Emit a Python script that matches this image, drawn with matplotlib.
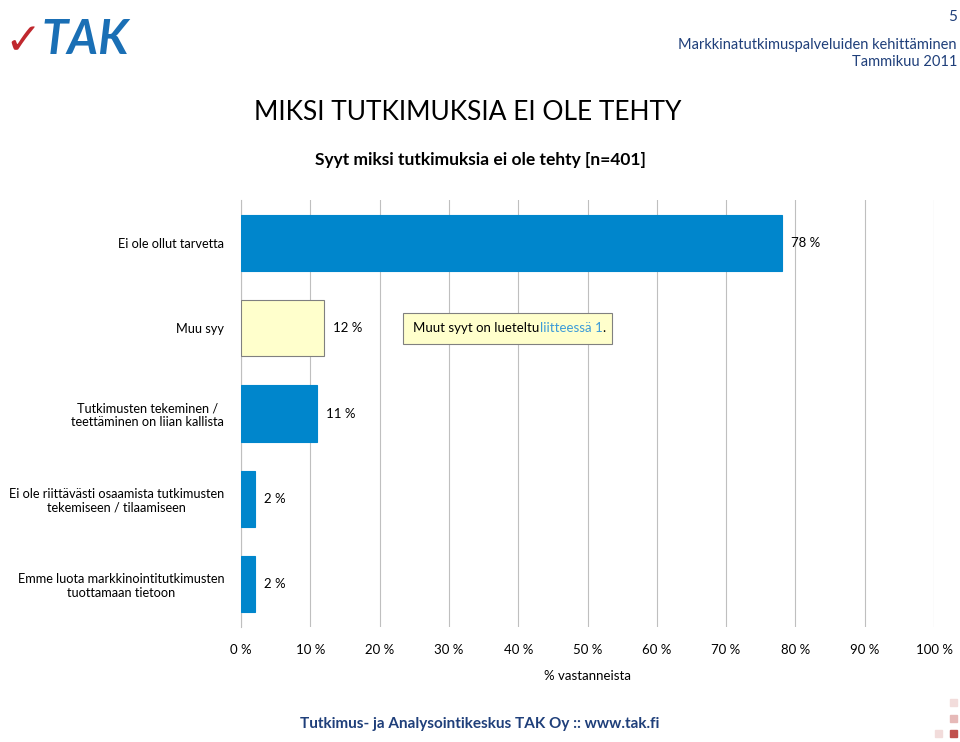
import matplotlib
matplotlib.use("Agg")
import matplotlib.pyplot as plt
from matplotlib.patches import Rectangle

categories = ["Ei ole ollut tarvetta", "Muu syy", "Tutkimusten tekeminen /\nteettäminen on liian kallista",
              "Ei ole riittävästi osaamista tutkimusten\ntekemiseen / tilaamiseen",
              "Emme luota markkinointitutkimusten\ntuottamaan tietoon"]
values = [78, 12, 11, 2, 2]
labels = ["78 %", "12 %", "11 %", "2 %", "2 %"]
colors = ["#0086CC", "#FFFFCC", "#0086CC", "#0086CC", "#0086CC"]
ticks = list(range(0, 101, 10))

plt.rcParams["font.family"] = "Lato"
W, H = 960, 742
fig = plt.figure(figsize=(9.6, 7.42), dpi=100)
ax = fig.add_axes([241/W, 1-627/H, (934-241)/W, (627-200)/H])
y = list(range(len(categories)))
ax.barh(y, values, height=0.66, color=colors, edgecolor=["#0086CC", "#808080", "#0086CC", "#0086CC", "#0086CC"], linewidth=0.8, zorder=3)
for yi, v, l in zip(y, values, labels):
    ax.text(v + 1.3, yi, l, va="center", ha="left", fontsize=9.5, zorder=4)
ax.set_ylim(4.5, -0.5)
ax.set_xlim(0, 100)
ax.set_yticks(y)
ax.set_yticklabels(categories, fontsize=9.2, multialignment="center")
ax.set_xticks(ticks)
ax.set_xticklabels([f"{t} %" for t in ticks], fontsize=9.5)
ax.tick_params(axis="y", length=0, pad=12)
ax.tick_params(axis="x", length=0, pad=12)
ax.grid(axis="x", color="#BFBFBF", linewidth=0.8, zorder=0)
for s in ["top", "right", "bottom"]:
    ax.spines[s].set_visible(False)
ax.spines["left"].set_color("#BFBFBF")
ax.set_xlabel("% vastanneista", fontsize=9.5, labelpad=10)

ax.add_patch(Rectangle((23.4, 0.82), 30.1, 0.365, facecolor="#FFFFCC", edgecolor="#808080", lw=0.8, zorder=6))
ax.text(24.8, 1, "Muut syyt on lueteltu", fontsize=9.5, va="center", ha="left", zorder=7)
ax.text(43.1, 1, "liitteessä 1", fontsize=9.5, va="center", ha="left", color="#3C9BD8", zorder=7)
ax.text(52.1, 1, ".", fontsize=9.5, va="center", ha="left", zorder=7)

blue = "#1F3F7A"
fig.text(254/W, 1-112/H, "MIKSI TUTKIMUKSIA EI OLE TEHTY", fontsize=19, va="center", ha="left")
fig.text(480/W, 1-160/H, "Syyt miksi tutkimuksia ei ole tehty [n=401]", fontsize=12.5, fontweight="bold", va="center", ha="center")
fig.text(957/W, 1-17/H, "5", fontsize=11, color=blue, ha="right", va="center")
fig.text(957/W, 1-45/H, "Markkinatutkimuspalveluiden kehittäminen", fontsize=10.5, color=blue, ha="right", va="center")
fig.text(957/W, 1-62/H, "Tammikuu 2011", fontsize=10.5, color=blue, ha="right", va="center")
fig.text(480/W, 1-724/H, "Tutkimus- ja Analysointikeskus TAK Oy :: www.tak.fi", fontsize=11, fontweight="bold", color=blue, ha="center", va="center")
fig.text(4/W, 1-42/H, "✓", fontsize=32, color="#C0282E", ha="left", va="center", fontfamily="DejaVu Sans")
fig.text(42/W, 1-40/H, "TAK", fontsize=34, fontweight="bold", color="#1A6FB5", ha="left", va="center", style="italic")
for (xx, yy, c) in [(950, 706, "#F2DCDB"), (950, 722, "#E6B9B8"), (950, 737, "#C0504D"), (935, 737, "#F2DCDB")]:
    fig.patches.append(Rectangle((xx/W, 1-yy/H), 7/W, 7/H, transform=fig.transFigure, color=c))
fig.savefig("out.png", dpi=100)
